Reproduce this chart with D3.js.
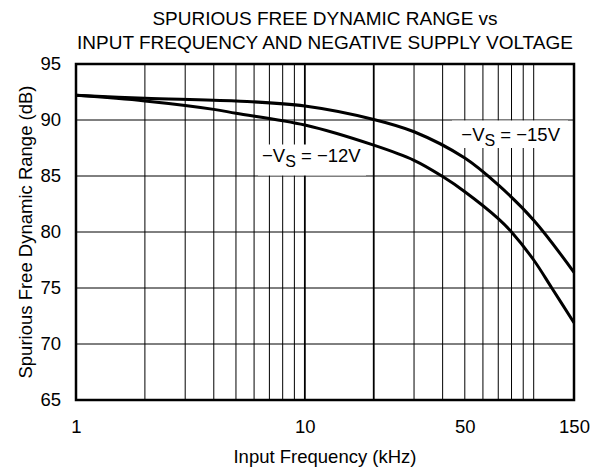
<!DOCTYPE html>
<html>
<head>
<meta charset="utf-8">
<script src="https://cdn.jsdelivr.net/npm/d3@7"></script>
<style>
  body { margin: 0; background: #fff; }
  svg { font-family: "Liberation Sans", Arial, sans-serif; }
</style>
</head>
<body>
<svg id="chart"></svg>
<script>
// frequency (kHz) and SFDR (dB)
const freq15 = [1, 2, 5, 10, 20, 30, 50, 70, 100, 150];
const sfdr15 = [92.2, 91.95, 91.7, 91.25, 90.05, 88.95, 86.6, 84.2, 81.05, 76.4];
const freq12 = [1, 2, 4, 5, 10, 20, 30, 40, 50, 70, 80, 100, 120, 150];
const sfdr12 = [92.2, 91.7, 90.95, 90.6, 89.55, 87.75, 86.4, 84.95, 83.6, 81.2, 80.0, 77.5, 75.0, 71.9];
const xTicks = [1, 10, 50, 150];
const yTicks = [65, 70, 75, 80, 85, 90, 95];
const xGrid = [2, 3, 4, 5, 6, 7, 8, 9, 10, 20, 30, 40, 50, 60, 70, 80, 90, 100];
const titleLines = ["SPURIOUS FREE DYNAMIC RANGE vs", "INPUT FREQUENCY AND NEGATIVE SUPPLY VOLTAGE"];

const width = 602, height = 470;
const mLeft = 76, mRight = 574, mTop = 64, mBottom = 400;
const fs = 18.5;

const svg = d3.select("#chart").attr("width", width).attr("height", height);

const x = d3.scaleLog().domain([1, 150]).range([mLeft, mRight]);
const y = d3.scaleLinear().domain([65, 95]).range([mBottom, mTop]);

// vertical grid
svg.append("g")
  .selectAll("line")
  .data(xGrid)
  .join("line")
    .attr("x1", d => x(d)).attr("x2", d => x(d))
    .attr("y1", mTop).attr("y2", mBottom)
    .attr("stroke", "#000")
    .attr("stroke-width", d => (d === 10 || d === 20) ? 1.8 : 1);

// horizontal grid
svg.append("g")
  .selectAll("line")
  .data(yTicks.slice(1, -1))
  .join("line")
    .attr("x1", mLeft).attr("x2", mRight)
    .attr("y1", d => y(d)).attr("y2", d => y(d))
    .attr("stroke", "#000")
    .attr("stroke-width", 1);

// white boxes behind the labels
const labels = [
  { v: "12V", fx: 6.5, vy: 86.28, box: [258, 144.5, 108, 31] },
  { v: "15V", fx: 48.3, vy: 88.12, box: [452, 120.5, 116, 27.5] }
];
svg.append("g")
  .selectAll("rect")
  .data(labels)
  .join("rect")
    .attr("x", d => d.box[0]).attr("y", d => d.box[1])
    .attr("width", d => d.box[2]).attr("height", d => d.box[3])
    .attr("fill", "#fff");

// curves
const line = d3.line()
  .x(d => x(d[0]))
  .y(d => y(d[1]))
  .curve(d3.curveCatmullRom.alpha(0.5));

svg.append("path")
  .datum(d3.zip(freq15, sfdr15))
  .attr("d", line)
  .attr("fill", "none").attr("stroke", "#000").attr("stroke-width", 3);

svg.append("path")
  .datum(d3.zip(freq12, sfdr12))
  .attr("d", line)
  .attr("fill", "none").attr("stroke", "#000").attr("stroke-width", 3);

// frame
svg.append("rect")
  .attr("x", mLeft).attr("y", mTop)
  .attr("width", mRight - mLeft).attr("height", mBottom - mTop)
  .attr("fill", "none").attr("stroke", "#000").attr("stroke-width", 2.5);

// curve labels
const lab = svg.append("g")
  .selectAll("text")
  .data(labels)
  .join("text")
    .attr("x", d => x(d.fx))
    .attr("y", d => y(d.vy))
    .attr("font-size", fs)
    .attr("fill", "#000");
lab.append("tspan").text("\u2212V");
lab.append("tspan").attr("dy", 5).attr("font-size", 16).text("S");
lab.append("tspan").attr("dy", -5).text(d => " = \u2212" + d.v);

// axes (labels only)
const xAxis = d3.axisBottom(x).tickValues(xTicks).tickFormat(d3.format("d")).tickSize(0).tickPadding(20);
svg.append("g")
  .attr("transform", `translate(0,${mBottom})`)
  .call(xAxis)
  .call(g => g.select(".domain").remove())
  .selectAll("text")
    .attr("font-size", fs)
    .attr("font-family", "Liberation Sans, Arial, sans-serif")
    .attr("fill", "#000");

const yAxis = d3.axisLeft(y).tickValues(yTicks).tickSize(0).tickPadding(15);
svg.append("g")
  .attr("transform", `translate(${mLeft},0)`)
  .call(yAxis)
  .call(g => g.select(".domain").remove())
  .selectAll("text")
    .attr("font-size", fs)
    .attr("font-family", "Liberation Sans, Arial, sans-serif")
    .attr("fill", "#000");

// titles
svg.append("g")
  .selectAll("text")
  .data(titleLines)
  .join("text")
    .attr("x", (mLeft + mRight) / 2)
    .attr("y", (d, i) => 25 + i * 24)
    .attr("text-anchor", "middle")
    .attr("font-size", 19)
    .text(d => d);

svg.append("text")
  .attr("x", (mLeft + mRight) / 2)
  .attr("y", 463)
  .attr("text-anchor", "middle")
  .attr("font-size", fs)
  .text("Input Frequency (kHz)");

svg.append("text")
  .attr("transform", `translate(32,${(mTop + mBottom) / 2}) rotate(-90)`)
  .attr("text-anchor", "middle")
  .attr("font-size", fs)
  .text("Spurious Free Dynamic Range (dB)");
</script>
</body>
</html>
